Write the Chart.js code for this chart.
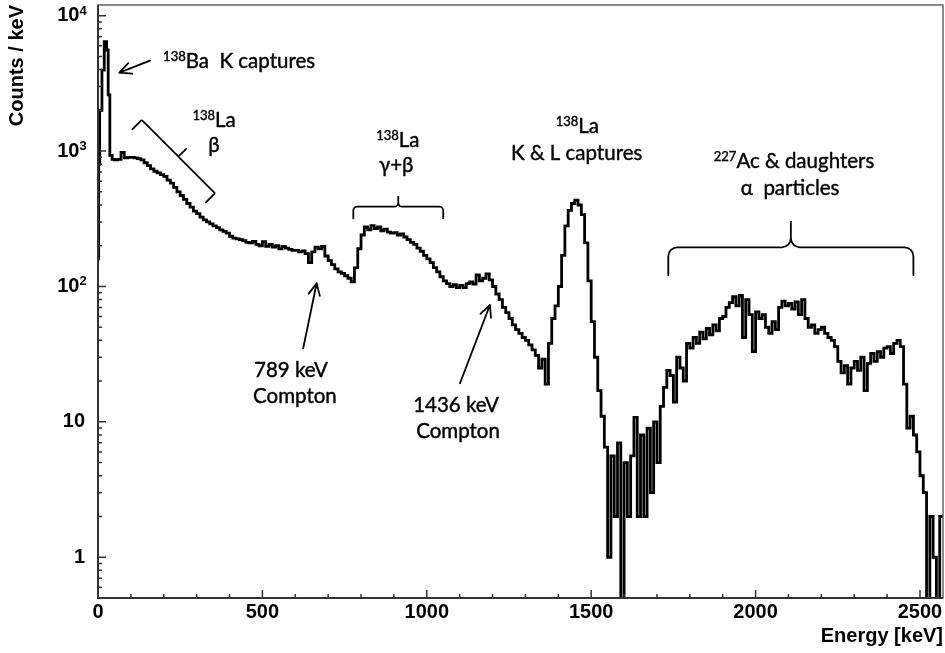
<!DOCTYPE html>
<html>
<head>
<meta charset="utf-8">
<script src="https://cdn.jsdelivr.net/npm/chart.js@4.4.0/dist/chart.umd.min.js"></script>
<style>
html,body{margin:0;padding:0;background:#fff;}
canvas{display:block;}
</style>
</head>
<body>
<canvas id="c" width="945" height="653"></canvas>
<script>
// ---------------- DATA ----------------
// Low-energy part (138Ba K-capture peak), variable bin edges in keV
const lowEdges  = [0, 2, 5, 12, 19, 26, 31, 36, 43];
const lowCounts = [160, 800, 2000, 3970, 6430, 5580, 2600, 930, 870];

// Main spectrum: 10 keV bins starting at 50 keV (counts / keV)
const binStart = 50;
const binWidth = 10;
const counts = [
  860, 870, 980, 890, 900,                              // 50-100
  900, 890, 880, 860, 820, 780, 740, 710, 690, 670,     // 100-200
  650, 610, 580, 540, 500, 470, 440, 410, 385, 360,     // 200-300
  345, 325, 310, 300, 290, 280, 272, 262, 255, 248,     // 300-400
  235, 228, 225, 222, 218, 212, 210, 215, 205, 200,     // 400-500
  214, 198, 205, 195, 200, 190, 198, 192, 188, 185,     // 500-600
  185, 180, 183, 175, 150, 180, 195, 190, 198, 168,     // 600-700
  155, 145, 135, 128, 125, 120, 115, 108, 137, 190,     // 700-800
  240, 275, 262, 282, 268, 275, 258, 265, 252, 248,     // 800-900
  250, 240, 245, 232, 222, 212, 205, 192, 182, 170,     // 900-1000
  160, 150, 138, 128, 118, 110, 105, 100, 103, 98,      // 1000-1100
  102, 98, 105, 108, 104, 122, 110, 115, 124, 112,      // 1100-1200
  100, 88, 80, 70, 64, 58, 52, 48, 45, 42,              // 1200-1300
  40, 37, 34, 31, 25, 29, 19, 38, 58, 72,               // 1300-1400
  100, 170, 280, 365, 410, 434, 400, 340, 210, 110,     // 1400-1500
  55, 30, 17, 11, 6.5, 1, 5.6, 2, 7, 0.3,               // 1500-1600
  5, 2, 5.6, 10.8, 2, 8, 2, 9, 3, 10,                   // 1600-1700
  5, 13, 18, 24, 22, 14, 30, 25, 20, 38,                // 1700-1800
  35, 42, 38, 46, 41, 49, 44, 52, 47, 58,               // 1800-1900
  60, 70, 76, 84, 72, 86, 42, 80, 62, 33,               // 1900-2000
  65, 58, 62, 50, 45, 55, 48, 70, 78, 72,               // 2000-2100
  75, 68, 77, 62, 80, 58, 50, 52, 45, 48,               // 2100-2200
  50, 45, 42, 40, 36, 28, 23, 26, 19, 25,               // 2200-2300
  28, 24, 30, 17, 27, 32, 28, 33, 30, 35,               // 2300-2400
  36, 32, 38, 40, 36, 19, 9, 11, 8, 6,                  // 2400-2500
  4, 3, 0.3, 2, 1, 0.3, 2                               // 2500-2570
];

const xMin = 0, xMax = 2570;
const yMin = 0.5, yMax = 12000;
const xTickValues = [0, 500, 1000, 1500, 2000, 2500];
// y tick labels: base text and superscript exponent
const yTickBase = {1: '1', 10: '10', 100: '10 ', 1000: '10 ', 10000: '10 '};
const yTickExp  = {100: '2', 1000: '3', 10000: '4'};

// ---------------- ANNOTATIONS (data coordinates: keV, counts/keV) ----------------
const textLabels = [
  {parts: [{t: '138', sup: true}, {t: 'Ba  K captures'}], x: 198, y: 4110, align: 'left'},
  {parts: [{t: '138', sup: true}, {t: 'La'}], x: 353, y: 1507, align: 'center'},
  {parts: [{t: '\u03B2'}], x: 353, y: 985, align: 'center'},
  {parts: [{t: '138', sup: true}, {t: 'La'}], x: 912, y: 1078, align: 'center'},
  {parts: [{t: '\u03B3+\u03B2'}], x: 907, y: 701, align: 'center'},
  {parts: [{t: '138', sup: true}, {t: 'La'}], x: 1458, y: 1353, align: 'center'},
  {parts: [{t: 'K & L captures'}], x: 1456, y: 860, align: 'center'},
  {parts: [{t: '227', sup: true}, {t: 'Ac & daughters'}], x: 2117, y: 746, align: 'center'},
  {parts: [{t: '\u03B1  particles'}], x: 2105, y: 474, align: 'center'},
  {parts: [{t: '789 keV'}], x: 587, y: 21.4, align: 'center'},
  {parts: [{t: 'Compton'}], x: 599, y: 13.7, align: 'center'},
  {parts: [{t: '1436 keV'}], x: 1089, y: 11.9, align: 'center'},
  {parts: [{t: 'Compton'}], x: 1095, y: 7.6, align: 'center'}
];
const arrows = [
  {from: [158, 4654], to: [65, 3794]},
  {from: [624, 34.9], to: [665, 105.6]},
  {from: [1101, 19.3], to: [1192, 73.0]}
];
const brackets = [
  {p1: [133, 1697], p2: [356, 488], hook: 13, tick: 11, r: 1},
  {p1: [776.5, 388.5], p2: [1050, 388.5], hook: 11.6, tick: 10, r: 4},
  {p1: [1734.5, 194.7], p2: [2480, 194.7], hook: 27.7, tick: 25.6, r: 9}
];

// ---------------- BUILD ----------------
const points = [];
lowEdges.forEach((e, i) => points.push({x: e, y: lowCounts[i]}));
counts.forEach((c, i) => points.push({x: binStart + binWidth * i, y: c}));
points.push({x: binStart + binWidth * counts.length, y: counts[counts.length - 1]});

const axisFont = '"Liberation Sans", Arial, Helvetica, sans-serif';
const annFamily = 'Lato, "Open Sans", sans-serif';

function drawRich(ctx, parts, x, baseline, align) {
  const mainFont = '20.5px ' + annFamily;
  const supFont = '13px ' + annFamily;
  let w = 0;
  parts.forEach(p => { ctx.font = p.sup ? supFont : mainFont; p.w = ctx.measureText(p.t).width; w += p.w; });
  let xx = align === 'left' ? x : x - w / 2;
  parts.forEach(p => {
    ctx.font = p.sup ? supFont : mainFont;
    const yy = baseline - (p.sup ? 7 : 0);
    ctx.fillText(p.t, xx, yy);
    ctx.strokeText(p.t, xx, yy);
    xx += p.w;
  });
}

const decorPlugin = {
  id: 'decor',
  afterDraw(chart) {
    const {ctx, chartArea: a, scales: {x, y}} = chart;
    const P = (v) => [x.getPixelForValue(v[0]), y.getPixelForValue(v[1])];
    ctx.save();
    // frame
    ctx.strokeStyle = '#666'; ctx.lineWidth = 1.5;
    ctx.strokeRect(a.left, a.top, a.right - a.left, a.bottom - a.top);
    ctx.strokeStyle = '#333'; ctx.lineWidth = 2;
    ctx.beginPath();
    ctx.moveTo(a.left, a.top); ctx.lineTo(a.left, a.bottom); ctx.lineTo(a.right, a.bottom);
    ctx.stroke();
    // inward ticks
    ctx.lineWidth = 1.5;
    ctx.beginPath();
    for (let v = xMin; v <= xMax; v += 100) {
      const px = x.getPixelForValue(v);
      const len = v % 500 === 0 ? 8 : 4;
      ctx.moveTo(px, a.bottom); ctx.lineTo(px, a.bottom - len);
    }
    for (let d = -1; d <= 4; d++) {
      for (let m = 1; m <= 9; m++) {
        const v = m * Math.pow(10, d);
        if (v < yMin || v > yMax) continue;
        const py = y.getPixelForValue(v);
        const len = m === 1 ? 8 : 4;
        ctx.moveTo(a.left, py); ctx.lineTo(a.left + len, py);
      }
    }
    ctx.stroke();

    // superscript exponents of y tick labels
    ctx.fillStyle = '#000';
    ctx.textAlign = 'left';
    ctx.textBaseline = 'alphabetic';
    ctx.font = 'bold 13px ' + axisFont;
    Object.keys(yTickExp).forEach(k => {
      const py = y.getPixelForValue(Number(k));
      ctx.fillText(yTickExp[k], 79.5, py - 1);
    });

    // annotation texts (slightly emboldened)
    ctx.strokeStyle = '#000'; ctx.lineWidth = 0.4; ctx.lineJoin = 'round';
    textLabels.forEach(l => {
      drawRich(ctx, l.parts, x.getPixelForValue(l.x), y.getPixelForValue(l.y), l.align);
    });

    // arrows
    ctx.strokeStyle = '#000'; ctx.lineWidth = 1.8; ctx.lineCap = 'round';
    arrows.forEach(ar => {
      const [x0, y0] = P(ar.from), [x1, y1] = P(ar.to);
      const ang = Math.atan2(y1 - y0, x1 - x0);
      const hl = 13, ha = 0.45;
      ctx.beginPath();
      ctx.moveTo(x0, y0); ctx.lineTo(x1, y1);
      ctx.moveTo(x1 - hl * Math.cos(ang - ha), y1 - hl * Math.sin(ang - ha));
      ctx.lineTo(x1, y1);
      ctx.lineTo(x1 - hl * Math.cos(ang + ha), y1 - hl * Math.sin(ang + ha));
      ctx.stroke();
    });

    // brackets
    ctx.lineWidth = 1.8; ctx.lineJoin = 'round';
    brackets.forEach(b => {
      const [ax, ay] = P(b.p1), [bx, by] = P(b.p2);
      const dx = bx - ax, dy = by - ay, L = Math.hypot(dx, dy);
      const nx = dy / L, ny = -dx / L; // normal (up side)
      const mx = (ax + bx) / 2, my = (ay + by) / 2;
      const tx = mx + nx * b.tick, ty = my + ny * b.tick;
      ctx.beginPath();
      ctx.moveTo(ax - nx * b.hook, ay - ny * b.hook);
      ctx.arcTo(ax, ay, mx, my, b.r);
      ctx.arcTo(mx, my, tx, ty, b.r);
      ctx.lineTo(tx, ty);
      ctx.moveTo(tx, ty);
      ctx.arcTo(mx, my, bx, by, b.r);
      ctx.arcTo(bx, by, bx - nx * b.hook, by - ny * b.hook, b.r);
      ctx.lineTo(bx - nx * b.hook, by - ny * b.hook);
      ctx.stroke();
    });
    ctx.restore();
  }
};

new Chart(document.getElementById('c'), {
  type: 'line',
  data: {
    datasets: [{
      data: points,
      stepped: 'before',
      borderColor: '#000',
      borderWidth: 2.8,
      pointRadius: 0,
      fill: false,
      tension: 0
    }]
  },
  options: {
    responsive: false,
    animation: false,
    events: [],
    layout: {padding: {top: 5, right: 2, left: 0, bottom: 0}},
    plugins: {legend: {display: false}, tooltip: {enabled: false}},
    scales: {
      x: {
        type: 'linear', min: xMin, max: xMax,
        grid: {display: false, drawTicks: false},
        border: {display: false},
        afterBuildTicks: (s) => { s.ticks = xTickValues.map(v => ({value: v})); },
        ticks: {autoSkip: false, maxRotation: 0, padding: 2, color: '#000',
                font: {family: axisFont, size: 20, weight: 'bold'},
                callback: (v) => String(v)},
        title: {display: true, text: 'Energy [keV]', align: 'end', color: '#000',
                padding: {top: 0, bottom: 5}, font: {family: axisFont, size: 20, weight: 'bold'}},
        afterFit: (s) => { s.height = 55; s.paddingLeft = 0; s.paddingRight = 0; }
      },
      y: {
        type: 'logarithmic', min: yMin, max: yMax,
        grid: {display: false, drawTicks: false},
        border: {display: false},
        ticks: {autoSkip: false, padding: 13, color: '#000',
                font: {family: axisFont, size: 20, weight: 'bold'},
                callback: (v) => yTickBase[v] !== undefined ? yTickBase[v] : ''},
        title: {display: true, text: 'Counts / keV', align: 'end', color: '#000',
                padding: {top: 5.5, bottom: 0}, font: {family: axisFont, size: 20, weight: 'bold'}},
        afterFit: (s) => { s.width = 98; s.paddingTop = 0; s.paddingBottom = 0; }
      }
    }
  },
  plugins: [decorPlugin]
});
</script>
</body>
</html>
